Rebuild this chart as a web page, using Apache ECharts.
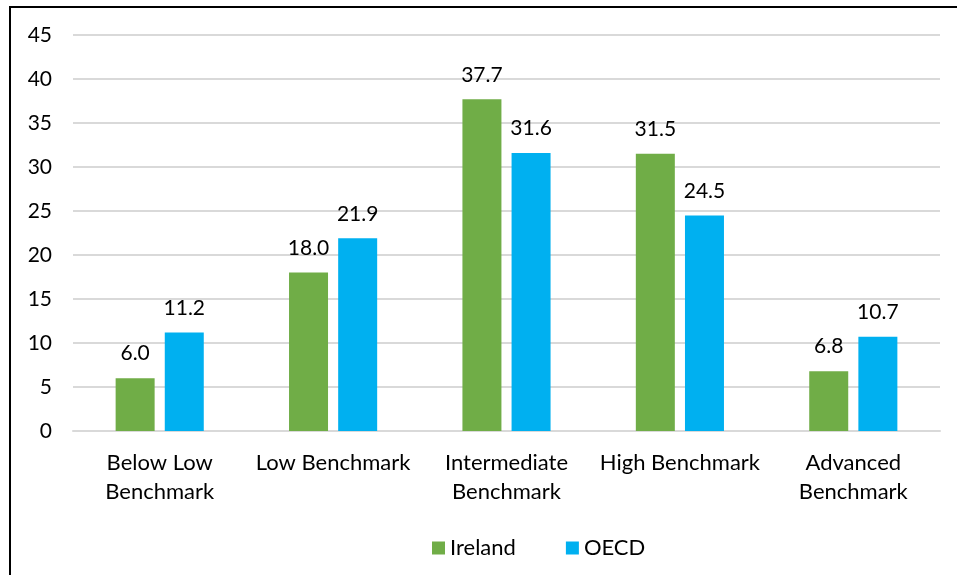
<!DOCTYPE html>
<html>
<head>
<meta charset="utf-8">
<script src="https://cdn.jsdelivr.net/npm/echarts@6/dist/echarts.min.js"></script>
<style>
  html, body { margin: 0; padding: 0; background: #fff; }
  #main { width: 957px; height: 575px; }
</style>
</head>
<body>
<div id="main"></div>
<script>
  // categories and values
  var categories = ['Below Low\nBenchmark', 'Low Benchmark', 'Intermediate\nBenchmark', 'High Benchmark', 'Advanced\nBenchmark'];
  var ireland = [6.0, 18.0, 37.7, 31.5, 6.8];
  var oecd = [11.2, 21.9, 31.6, 24.5, 10.7];
  var yTicks = { min: 0, max: 45, interval: 5 };

  var font = 'Lato, "Liberation Sans", sans-serif';
  var fs = 21;
  var myChart = echarts.init(document.getElementById('main'));

  var labelStyle = {
    show: true,
    position: 'top',
    distance: 14,
    color: '#000',
    fontSize: fs,
    fontFamily: font,
    formatter: function (p) { return p.value.toFixed(1); }
  };

  var option = {
    backgroundColor: '#ffffff',
    animation: false,
    textStyle: { fontFamily: font },
    // frame lines on the left and top like the original picture
    graphic: [{
      type: 'polyline',
      shape: { points: [[10, 575], [10, 7], [957, 7]] },
      style: { stroke: '#000', lineWidth: 2, fill: null }
    }],
    grid: { left: 73, right: 17, top: 35, bottom: 144 },
    legend: {
      top: 532,
      left: 427,
      itemWidth: 13,
      itemHeight: 13,
      itemGap: 50,
      icon: 'rect',
      textStyle: { fontSize: 22, color: '#000', fontFamily: font },
      data: ['Ireland', 'OECD']
    },
    xAxis: {
      type: 'category',
      data: categories,
      axisLine: { lineStyle: { color: '#d9d9d9', width: 2 } },
      axisTick: { show: false },
      axisLabel: { color: '#000', fontSize: 22, fontFamily: font, margin: 17, lineHeight: 29, interval: 0 }
    },
    yAxis: {
      type: 'value',
      min: yTicks.min,
      max: yTicks.max,
      interval: yTicks.interval,
      axisLine: { show: false },
      axisTick: { show: false },
      axisLabel: { color: '#000', fontSize: fs, fontFamily: font, margin: 21 },
      splitLine: { lineStyle: { color: '#d9d9d9', width: 2 } }
    },
    series: [{
      name: 'Ireland',
      type: 'bar',
      data: ireland,
      barWidth: 39,
      barGap: '26%',
      itemStyle: { color: '#70ad47' },
      label: labelStyle
    }, {
      name: 'OECD',
      type: 'bar',
      data: oecd,
      barWidth: 39,
      itemStyle: { color: '#00b0f0' },
      label: labelStyle
    }]
  };

  myChart.setOption(option);
</script>
</body>
</html>
